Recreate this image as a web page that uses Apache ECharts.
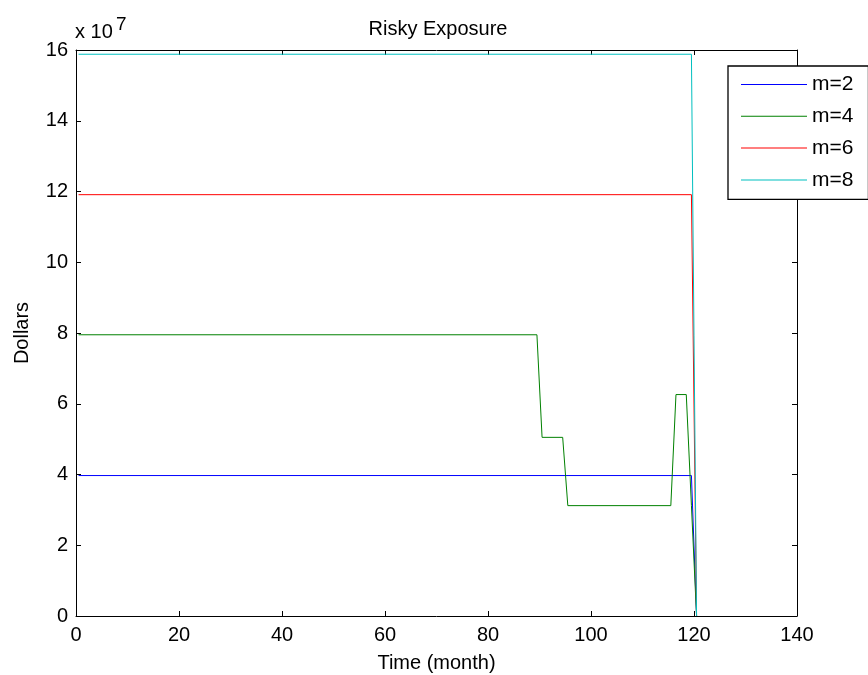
<!DOCTYPE html>
<html>
<head>
<meta charset="utf-8">
<script src="https://cdn.jsdelivr.net/npm/echarts@6/dist/echarts.min.js"></script>
<style>html,body{margin:0;padding:0;background:#fff}#c{width:868px;height:675px}</style>
</head>
<body>
<div id="c"></div>
<script>
// Values in units of 1e7 dollars
const seriesNames = ['m=2', 'm=4', 'm=6', 'm=8'];
const m2Time = [0.5, 119.5, 120.5];
const m2Vals = [3.97, 3.97, 0];
const m4Time = [0.5, 89.5, 90.5, 94.5, 95.5, 115.5, 116.5, 118.5, 119.5, 120.5];
const m4Vals = [7.95, 7.95, 5.05, 5.05, 3.12, 3.12, 6.26, 6.26, 3.12, 0];
const m6Time = [0.5, 119.5, 120.5];
const m6Vals = [11.91, 11.91, 0];
const m8Time = [0.5, 119.5, 120.5];
const m8Vals = [15.88, 15.88, 0];
const xTicks = [0, 20, 40, 60, 80, 100, 120, 140];
const yTicks = [0, 2, 4, 6, 8, 10, 12, 14, 16];
const colors = ['#0000FF', '#008000', '#FF0000', '#00BFBF'];

const FONT = 'Liberation Sans, Arial, Helvetica, sans-serif';
const pair = (xs, ys) => xs.map((x, i) => [x, ys[i]]);
const times = [m2Time, m4Time, m6Time, m8Time];
const vals = [m2Vals, m4Vals, m6Vals, m8Vals];

const chart = echarts.init(document.getElementById('c'), null, {renderer: 'canvas'});
const axisCommon = {
  type: 'value',
  axisLine: {show: true, onZero: false, lineStyle: {color: '#000', width: 1}},
  axisTick: {show: true, inside: true, length: 5, lineStyle: {color: '#000'}},
  splitLine: {show: false}
};
chart.setOption({
  animation: false,
  backgroundColor: '#fff',
  title: {
    text: 'Risky Exposure', left: 433, top: 14, textAlign: 'center',
    textStyle: {fontFamily: FONT, fontSize: 20, fontWeight: 'normal', color: '#000'}
  },
  grid: {left: 76, right: 71, top: 50, bottom: 59, show: false, containLabel: false, outerBoundsMode: 'none'},
  legend: {
    orient: 'vertical', left: 728, top: 66,
    padding: [8, 15, 9, 13], itemGap: 10.8, itemWidth: 66, itemHeight: 16,
    backgroundColor: '#fff', borderColor: '#000', borderWidth: 1.3,
    textStyle: {fontFamily: FONT, fontSize: 21, color: '#000'},
    data: seriesNames.map(n => ({name: n, icon: 'path://M0,0L66,0L66,1L0,1Z'}))
  },
  xAxis: [
    Object.assign({}, axisCommon, {
      position: 'bottom', min: xTicks[0], max: xTicks[xTicks.length - 1], interval: 20,
      axisLabel: {fontFamily: FONT, fontSize: 20, color: '#000', margin: 9},
      name: 'Time (month)', nameLocation: 'middle', nameGap: 37,
      nameTextStyle: {fontFamily: FONT, fontSize: 20, color: '#000'}
    }),
    Object.assign({}, axisCommon, {
      position: 'top', min: xTicks[0], max: xTicks[xTicks.length - 1], interval: 20,
      axisLabel: {show: false}
    })
  ],
  yAxis: [
    Object.assign({}, axisCommon, {
      position: 'left', min: yTicks[0], max: yTicks[yTicks.length - 1], interval: 2,
      axisLabel: {fontFamily: FONT, fontSize: 20, color: '#000', margin: 8},
      name: 'Dollars', nameLocation: 'middle', nameGap: 44, nameRotate: 90,
      nameTextStyle: {fontFamily: FONT, fontSize: 20, color: '#000'}
    }),
    Object.assign({}, axisCommon, {
      position: 'right', min: yTicks[0], max: yTicks[yTicks.length - 1], interval: 2,
      axisLabel: {show: false}
    })
  ],
  graphic: [
    {type: 'text', left: 75, top: 22, style: {text: 'x 10', font: '20px ' + FONT, fill: '#000'}},
    {type: 'text', left: 116, top: 15, style: {text: '7', font: '19px ' + FONT, fill: '#000'}}
  ],
  series: seriesNames.map((n, i) => ({
    name: n, type: 'line', xAxisIndex: 0, yAxisIndex: 0,
    data: pair(times[i], vals[i]),
    symbol: 'none', color: colors[i],
    lineStyle: {width: 1, color: colors[i]},
    z: 2 + i
  }))
});
</script>
</body>
</html>
